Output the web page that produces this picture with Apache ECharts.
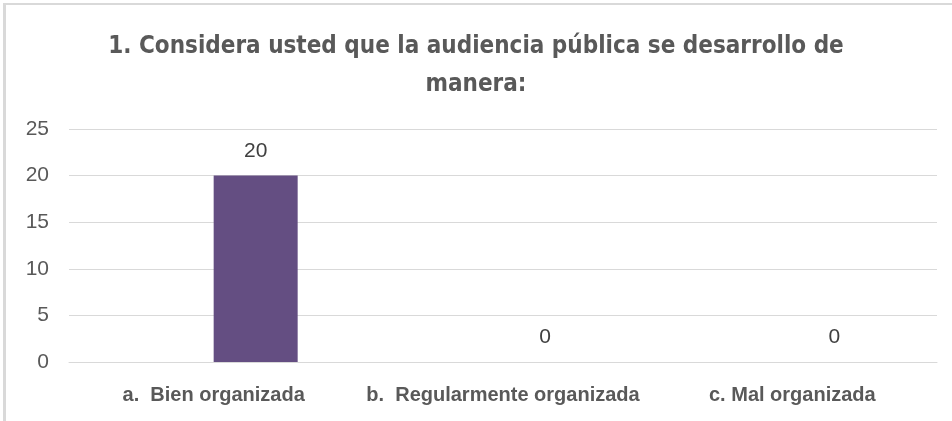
<!DOCTYPE html>
<html>
<head>
<meta charset="utf-8">
<script src="https://cdn.jsdelivr.net/npm/echarts@6/dist/echarts.min.js"></script>
<style>
  html, body { margin: 0; padding: 0; background: #fff; }
  #frame { position: absolute; left: 3px; top: 3px; width: 960px; height: 430px;
    border-top: 2px solid #d9d9d9; border-left: 3px solid #d9d9d9; pointer-events: none; }
  #main { position: absolute; left: 0; top: 0; width: 952px; height: 421px; }
</style>
</head>
<body>
<div id="main"></div>
<div id="frame"></div>
<script>
var titleText = '1. Considera usted que la audiencia pública se desarrollo de\nmanera:';
var categories = ['a.  Bien organizada', 'b.  Regularmente organizada', 'c. Mal organizada'];
// Excel left an empty first series, so the visible bars sit right of centre
var emptySeries = ['-', '-', '-'];
var values = [20, 0, 0];
var yTicks = { min: 0, max: 25, interval: 5 };

var myChart = echarts.init(document.getElementById('main'), null, { renderer: 'canvas' });

var option = {
  animation: false,
  title: {
    text: titleText,
    left: 'center',
    top: 23,
    textStyle: {
      fontFamily: '"DejaVu Sans Condensed", sans-serif',
      fontSize: 24,
      fontWeight: 'bold',
      color: '#595959',
      lineHeight: 38
    }
  },
  grid: { left: 69, right: 15, top: 129, bottom: 59 },
  xAxis: {
    type: 'category',
    data: categories,
    axisLine: { show: true, lineStyle: { color: '#d9d9d9', width: 1 } },
    axisTick: { show: false },
    axisLabel: {
      interval: 0,
      margin: 23,
      fontFamily: 'Liberation Sans',
      fontSize: 20,
      fontWeight: 'bold',
      color: '#595959'
    }
  },
  yAxis: {
    type: 'value',
    min: yTicks.min,
    max: yTicks.max,
    interval: yTicks.interval,
    axisLine: { show: false },
    axisTick: { show: false },
    splitLine: { lineStyle: { color: '#d9d9d9', width: 1 } },
    axisLabel: {
      margin: 20,
      fontFamily: 'Liberation Sans',
      fontSize: 21,
      color: '#595959'
    }
  },
  series: [
    {
      type: 'bar',
      name: 'blank',
      data: emptySeries,
      barWidth: 84,
      barGap: '0%'
    },
    {
      type: 'bar',
      name: 'Respuestas',
      data: values,
      barWidth: 84,
      barGap: '0%',
      itemStyle: { color: '#644e82' },
      label: {
        show: true,
        position: 'top',
        distance: 14,
        fontFamily: 'Liberation Sans',
        fontSize: 21,
        color: '#404040'
      }
    }
  ]
};

option && myChart.setOption(option);
</script>
</body>
</html>
